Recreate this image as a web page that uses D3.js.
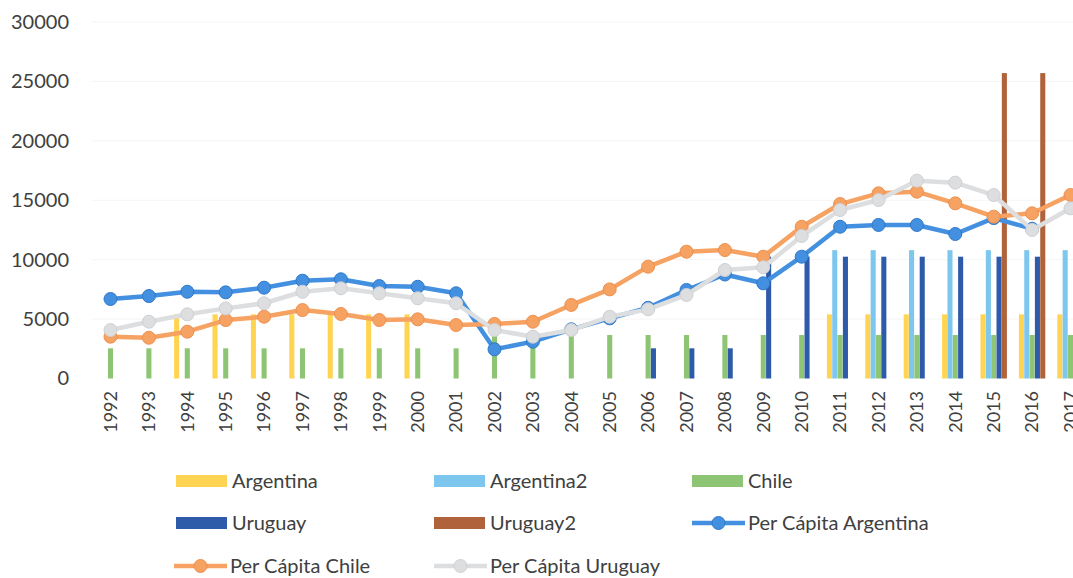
<!DOCTYPE html>
<html>
<head>
<meta charset="utf-8">
<script src="https://cdn.jsdelivr.net/npm/d3@7"></script>
<style>
  body { margin: 0; background: #fff; overflow: hidden; }
  text { font-family: Lato, "Open Sans", sans-serif; fill: #404040; }
</style>
</head>
<body>
<script>
// years on the x axis (the right edge is cut off after 2017)
var years = ["1992","1993","1994","1995","1996","1997","1998","1999","2000","2001","2002","2003","2004",
             "2005","2006","2007","2008","2009","2010","2011","2012","2013","2014","2015","2016","2017"];

// bar series
var argentina  = [null,null,5400,5400,5400,5400,5400,5400,5400,null,null,null,null,
                  null,null,null,null,null,null,5400,5400,5400,5400,5400,5400,5400];
var argentina2 = [null,null,null,null,null,null,null,null,null,null,null,null,null,
                  null,null,null,null,null,null,10800,10800,10800,10800,10800,10800,10800];
var chile      = [2540,2540,2540,2540,2540,2540,2540,2540,2540,2540,3660,3660,3660,
                  3660,3660,3660,3660,3660,3660,3660,3660,3660,3660,3660,3660,3660];
var uruguay    = [null,null,null,null,null,null,null,null,null,null,null,null,null,
                  null,2540,2540,2540,10250,10250,10250,10250,10250,10250,10250,10250,10250];
var uruguay2   = [null,null,null,null,null,null,null,null,null,null,null,null,null,
                  null,null,null,null,null,null,null,null,null,null,25700,25700,null];

// per capita lines
var pcArgentina = [6690,6940,7300,7250,7640,8230,8350,7780,7720,7170,2460,3100,4140,
                   5060,5950,7450,8750,8010,10250,12770,12920,12920,12160,13500,12600,null];
var pcChile     = [3520,3430,3940,4920,5200,5760,5430,4920,4980,4500,4590,4780,6190,
                   7500,9410,10670,10810,10250,12770,14680,15580,15720,14740,13620,13900,15440];
var pcUruguay   = [4080,4780,5400,5900,6330,7300,7590,7170,6750,6330,4080,3520,4080,
                   5200,5820,7030,9130,9360,11990,14180,15020,16650,16480,15440,12500,14320];

var yTicks = [0,5000,10000,15000,20000,25000,30000];

var barSeries = [
  {name: "Argentina",  values: argentina,  color: "#FFD452"},
  {name: "Argentina2", values: argentina2, color: "#7DC6EE"},
  {name: "Chile",      values: chile,      color: "#8DC575"},
  {name: "Uruguay",    values: uruguay,    color: "#2E5AAA"},
  {name: "Uruguay2",   values: uruguay2,   color: "#B0623A"}
];
var lineSeries = [
  {name: "Per Cápita Argentina", values: pcArgentina, color: "#4390E0", stroke: "#2f78c8"},
  {name: "Per Cápita Chile",     values: pcChile,     color: "#F6A262", stroke: "#ee9050"},
  {name: "Per Cápita Uruguay",   values: pcUruguay,   color: "#DDDEE0", stroke: "#cfd0d3"}
];

var width = 1073, height = 578;

var svg = d3.select("body").append("svg")
    .attr("width", width)
    .attr("height", height);

var x = d3.scaleBand()
    .domain(years)
    .range([91.3, 91.3 + 38.4 * years.length]);

var xInner = d3.scaleBand()
    .domain(barSeries.map(function(s){ return s.name; }))
    .range([-13.2, 13.2])
    .paddingInner(0.05);

var y = d3.scaleLinear()
    .domain([0, 30000])
    .range([378.5, 22]);

// faint gridlines
svg.append("g")
  .selectAll("line")
  .data(yTicks.slice(1))
  .enter().append("line")
    .attr("x1", 92).attr("x2", width)
    .attr("y1", function(d){ return y(d); })
    .attr("y2", function(d){ return y(d); })
    .attr("stroke", "#f5f5f5")
    .attr("stroke-width", 1);

// y axis labels
var yAxis = d3.axisLeft(y).tickValues(yTicks).tickFormat(d3.format("d")).tickSize(0).tickPadding(0);
svg.append("g")
    .attr("transform", "translate(69,0)")
    .call(yAxis)
    .call(function(g){ g.select(".domain").remove(); })
    .selectAll("text")
      .style("font-size", "20px")
      .attr("fill", "#404040");

// x axis labels, rotated
var xAxis = d3.axisBottom(x).tickSize(0).tickPadding(0);
svg.append("g")
    .attr("transform", "translate(0,391)")
    .call(xAxis)
    .call(function(g){ g.select(".domain").remove(); })
    .selectAll("text")
      .style("font-size", "18px")
      .attr("fill", "#404040")
      .attr("text-anchor", "end")
      .attr("dy", "0.35em")
      .attr("transform", "rotate(-90)");

// bars
barSeries.forEach(function(s){
  svg.append("g")
    .selectAll("rect")
    .data(s.values.map(function(v, i){ return {year: years[i], v: v}; })
                  .filter(function(d){ return d.v != null; }))
    .enter().append("rect")
      .attr("x", function(d){ return x(d.year) + x.bandwidth() / 2 + xInner(s.name); })
      .attr("width", xInner.bandwidth())
      .attr("y", function(d){ return y(d.v); })
      .attr("height", function(d){ return y(0) - y(d.v); })
      .attr("fill", s.color);
});

// lines with markers
var line = d3.line()
    .defined(function(d){ return d.v != null; })
    .x(function(d){ return x(d.year) + x.bandwidth() / 2; })
    .y(function(d){ return y(d.v); });

lineSeries.forEach(function(s){
  var pts = s.values.map(function(v, i){ return {year: years[i], v: v}; });
  svg.append("path")
    .datum(pts)
    .attr("fill", "none")
    .attr("stroke", s.color)
    .attr("stroke-width", 4.5)
    .attr("stroke-linejoin", "round")
    .attr("d", line);
  svg.append("g")
    .selectAll("circle")
    .data(pts.filter(function(d){ return d.v != null; }))
    .enter().append("circle")
      .attr("cx", function(d){ return x(d.year) + x.bandwidth() / 2; })
      .attr("cy", function(d){ return y(d.v); })
      .attr("r", 6.5)
      .attr("fill", s.color)
      .attr("stroke", s.stroke)
      .attr("stroke-width", 1);
});

// legend
var legendItems = [
  {s: barSeries[0], type: "bar", x: 176, y: 481},
  {s: barSeries[1], type: "bar", x: 434, y: 481},
  {s: barSeries[2], type: "bar", x: 692, y: 481},
  {s: barSeries[3], type: "bar", x: 176, y: 523},
  {s: barSeries[4], type: "bar", x: 434, y: 523},
  {s: lineSeries[0], type: "line", x: 692, y: 523},
  {s: lineSeries[1], type: "line", x: 174, y: 566},
  {s: lineSeries[2], type: "line", x: 434, y: 566}
];

var legend = svg.append("g");
legendItems.forEach(function(it){
  var g = legend.append("g").attr("transform", "translate(" + it.x + "," + it.y + ")");
  if (it.type == "bar") {
    g.append("rect")
      .attr("x", 0).attr("y", -6)
      .attr("width", 51).attr("height", 12)
      .attr("fill", it.s.color);
  } else {
    g.append("line")
      .attr("x1", 0).attr("x2", 53)
      .attr("y1", 0).attr("y2", 0)
      .attr("stroke", it.s.color)
      .attr("stroke-width", 4.5);
    g.append("circle")
      .attr("cx", 26.5).attr("cy", 0).attr("r", 6.5)
      .attr("fill", it.s.color)
      .attr("stroke", it.s.stroke);
  }
  g.append("text")
    .attr("x", 56)
    .attr("y", 0)
    .attr("dy", "0.35em")
    .style("font-size", "20px")
    .text(it.s.name);
});
</script>
</body>
</html>
